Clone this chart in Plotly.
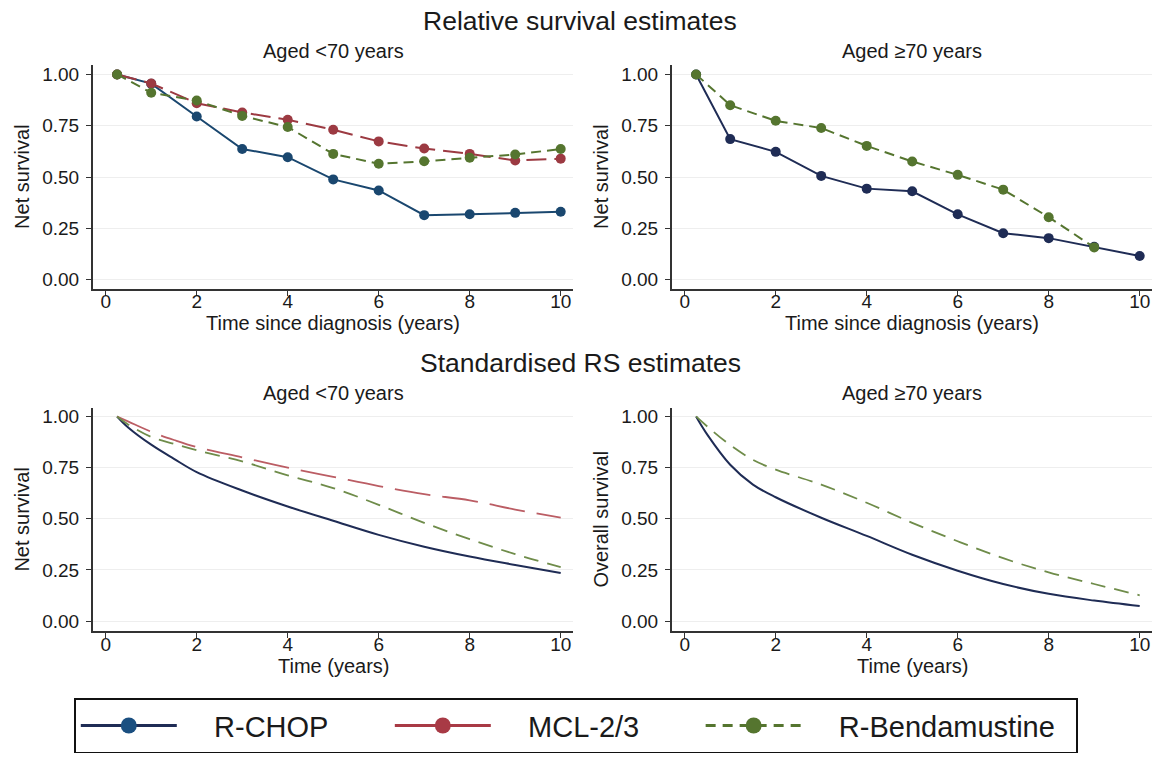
import plotly.graph_objects as go

# ---------------- data ----------------
years_rs = [0.25, 1, 2, 3, 4, 5, 6, 7, 8, 9, 10]
years_rs_benda_o70 = [0.25, 1, 2, 3, 4, 5, 6, 7, 8, 9]

rs_u70_rchop = [1.0, 0.955, 0.795, 0.637, 0.597, 0.489, 0.435, 0.315, 0.319, 0.326, 0.331]
rs_u70_mcl = [1.0, 0.956, 0.860, 0.815, 0.779, 0.731, 0.674, 0.639, 0.613, 0.581, 0.590]
rs_u70_benda = [1.0, 0.911, 0.873, 0.798, 0.744, 0.613, 0.565, 0.577, 0.594, 0.610, 0.637]

rs_o70_rchop = [1.0, 0.685, 0.623, 0.506, 0.444, 0.431, 0.319, 0.227, 0.203, 0.161, 0.116]
rs_o70_benda = [1.0, 0.850, 0.774, 0.739, 0.652, 0.576, 0.511, 0.439, 0.305, 0.158]

t_std = [0.25, 0.5, 1, 1.5, 2, 3, 4, 5, 6, 7, 8, 9, 10]
std_u70_rchop = [1.0, 0.945, 0.862, 0.793, 0.728, 0.638, 0.560, 0.490, 0.421, 0.363, 0.315, 0.274, 0.235]
std_u70_mcl = [1.0, 0.975, 0.925, 0.885, 0.850, 0.800, 0.750, 0.705, 0.660, 0.620, 0.590, 0.545, 0.505]
std_u70_benda = [1.0, 0.960, 0.900, 0.866, 0.835, 0.780, 0.712, 0.650, 0.568, 0.480, 0.400, 0.327, 0.264]

std_o70_rchop = [1.0, 0.910, 0.764, 0.667, 0.605, 0.505, 0.416, 0.324, 0.246, 0.181, 0.133, 0.100, 0.073]
std_o70_benda = [1.0, 0.950, 0.860, 0.788, 0.740, 0.667, 0.578, 0.480, 0.390, 0.307, 0.238, 0.181, 0.126]

x_ticks = [0, 2, 4, 6, 8, 10]
y_ticks = [0, 0.25, 0.5, 0.75, 1.0]
y_tick_labels = ["0.00", "0.25", "0.50", "0.75", "1.00"]

series_names = ["R-CHOP", "MCL-2/3", "R-Bendamustine"]

# ---------------- style ----------------
W, H = 1160, 763
FONT = "Liberation Sans"
TXT = "#1a1a1a"
NAVY = "#1a476f"
NAVY_DK = "#1f2c55"
RED = "#9c3a42"
RED_LT = "#bb5d64"
GREEN = "#55752f"
GREEN_LT = "#6f8c4a"

fig = go.Figure()

def px_x(p):
    return p / W

def px_y(p):
    return 1 - p / H

# axis geometry (pixels)
XL = (92.7, 573.3)
XR = (671.7, 1152.3)
YT = (63.3, 288.3)
YB = (408.0, 632.7)

xrange_ = [-0.286, 10.277]
yrange_top = [-0.0436, 1.046]
yrange_bot = [-0.0506, 1.042]

axes = {
    "1": (XL, YT, yrange_top),
    "2": (XR, YT, yrange_top),
    "3": (XL, YB, yrange_bot),
    "4": (XR, YB, yrange_bot),
}

layout_axes = {}
for k, (xd, yd, yr) in axes.items():
    xname = "xaxis" if k == "1" else f"xaxis{k}"
    yname = "yaxis" if k == "1" else f"yaxis{k}"
    layout_axes[xname] = dict(
        domain=[px_x(xd[0]), px_x(xd[1])], range=xrange_, anchor=("y" if k == "1" else f"y{k}"),
        tickvals=x_ticks, ticks="outside", ticklen=5, tickwidth=1.3, tickcolor="#333",
        showline=True, linecolor="#333", linewidth=1.5, showgrid=False, zeroline=False,
        tickfont=dict(family=FONT, size=19, color=TXT), ticklabelstandoff=-10, fixedrange=True,
    )
    layout_axes[yname] = dict(
        domain=[px_y(yd[1]), px_y(yd[0])], range=yr, anchor=("x" if k == "1" else f"x{k}"),
        tickvals=y_ticks, ticktext=y_tick_labels, ticks="outside", ticklen=5, tickwidth=1.3,
        tickcolor="#333", showline=True, linecolor="#333", linewidth=1.5,
        showgrid=True, gridcolor="#eeeeee", gridwidth=1, zeroline=False,
        tickfont=dict(family=FONT, size=19, color=TXT), ticklabelstandoff=3, fixedrange=True,
    )

# ---- top-left: relative survival, aged <70
fig.add_trace(go.Scatter(x=years_rs, y=rs_u70_rchop, mode="lines+markers", xaxis="x", yaxis="y",
                         line=dict(color=NAVY, width=2), marker=dict(color=NAVY, size=10), showlegend=False))
fig.add_trace(go.Scatter(x=years_rs, y=rs_u70_mcl, mode="lines+markers", xaxis="x", yaxis="y",
                         line=dict(color=RED, width=2, dash="20px,8px"), marker=dict(color=RED, size=10), showlegend=False))
fig.add_trace(go.Scatter(x=years_rs, y=rs_u70_benda, mode="lines+markers", xaxis="x", yaxis="y",
                         line=dict(color=GREEN, width=2, dash="10px,6px"), marker=dict(color=GREEN, size=10), showlegend=False))

# ---- top-right: relative survival, aged >=70
fig.add_trace(go.Scatter(x=years_rs, y=rs_o70_rchop, mode="lines+markers", xaxis="x2", yaxis="y2",
                         line=dict(color=NAVY_DK, width=2), marker=dict(color=NAVY_DK, size=10), showlegend=False))
fig.add_trace(go.Scatter(x=years_rs_benda_o70, y=rs_o70_benda, mode="lines+markers", xaxis="x2", yaxis="y2",
                         line=dict(color=GREEN, width=2, dash="10px,6px"), marker=dict(color=GREEN, size=10), showlegend=False))

# ---- bottom-left: standardised, aged <70
fig.add_trace(go.Scatter(x=t_std, y=std_u70_rchop, mode="lines", xaxis="x3", yaxis="y3", line_shape="spline",
                         line=dict(color=NAVY_DK, width=2), showlegend=False))
fig.add_trace(go.Scatter(x=t_std, y=std_u70_mcl, mode="lines", xaxis="x3", yaxis="y3", line_shape="spline",
                         line=dict(color=RED_LT, width=1.8, dash="36px,12px"), showlegend=False))
fig.add_trace(go.Scatter(x=t_std, y=std_u70_benda, mode="lines", xaxis="x3", yaxis="y3", line_shape="spline",
                         line=dict(color=GREEN_LT, width=1.8, dash="15px,9px"), showlegend=False))

# ---- bottom-right: standardised, aged >=70
fig.add_trace(go.Scatter(x=t_std, y=std_o70_rchop, mode="lines", xaxis="x4", yaxis="y4", line_shape="spline",
                         line=dict(color=NAVY_DK, width=2), showlegend=False))
fig.add_trace(go.Scatter(x=t_std, y=std_o70_benda, mode="lines", xaxis="x4", yaxis="y4", line_shape="spline",
                         line=dict(color=GREEN_LT, width=1.8, dash="15px,9px"), showlegend=False))

# ---- legend entries
NB = "\u00a0"
leg_labels = [NB * 4 + series_names[0] + NB * 7,
              NB * 4 + series_names[1] + NB * 7,
              NB * 4 + series_names[2] + NB * 2]
leg_styles = [
    dict(line=dict(color="#1f2c55", width=3), marker=dict(color="#1a4f80", size=16)),
    dict(line=dict(color="#a83a45", width=3), marker=dict(color="#a83a45", size=16)),
    dict(line=dict(color=GREEN, width=3, dash="10px,7px"), marker=dict(color=GREEN, size=16)),
]
for name, st in zip(leg_labels, leg_styles):
    fig.add_trace(go.Scatter(x=[None], y=[None], mode="lines+markers", name=name, xaxis="x", yaxis="y", **st))

# ---- annotations (titles)
ann = []
def text(s, x, y, size, angle=0):
    ann.append(dict(text=s, x=px_x(x), y=px_y(y), xref="paper", yref="paper", showarrow=False,
                    xanchor="center", yanchor="middle", textangle=angle,
                    font=dict(family=FONT, size=size, color=TXT)))

cxL = (XL[0] + XL[1]) / 2
cxR = (XR[0] + XR[1]) / 2
text("Relative survival estimates", 580, 19.5, 26.5)
text("Aged &lt;70 years", cxL, 49, 20)
text("Aged ≥70 years", cxR, 49, 20)
text("Time since diagnosis (years)", cxL, 323, 20)
text("Time since diagnosis (years)", cxR, 323, 20)
text("Net survival", 22, (YT[0] + YT[1]) / 2, 20, -90)
text("Net survival", 601, (YT[0] + YT[1]) / 2, 20, -90)

text("Standardised RS estimates", 580, 363, 26.5)
text("Aged &lt;70 years", cxL, 393, 20)
text("Aged ≥70 years", cxR, 393, 20)
text("Time (years)", cxL, 667, 20)
text("Time (years)", cxR, 667, 20)
text("Net survival", 22, (YB[0] + YB[1]) / 2, 20, -90)
text("Overall survival", 601, (YB[0] + YB[1]) / 2, 20, -90)

fig.update_layout(
    width=W, height=H,
    margin=dict(l=0, r=0, t=0, b=0),
    paper_bgcolor="white", plot_bgcolor="white",
    font=dict(family=FONT, color=TXT),
    annotations=ann,
    showlegend=True,
    legend=dict(
        orientation="h", x=px_x(74), y=px_y(700), xanchor="left", yanchor="top",
        bordercolor="#111", borderwidth=1.8, bgcolor="white",
        font=dict(family=FONT, size=29, color=TXT), itemwidth=96,
    ),
    **layout_axes,
)

fig.write_html(
    "out.html",
    config={"displayModeBar": False},
    post_script="document.body.style.margin='0';document.body.style.overflow='hidden';",
)
